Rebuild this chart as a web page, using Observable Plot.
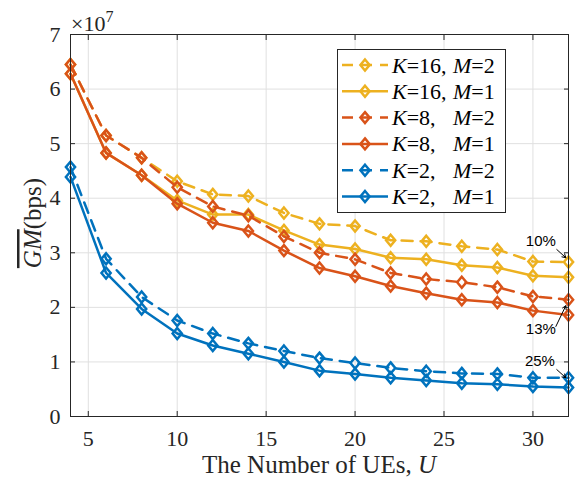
<!DOCTYPE html>
<html><head><meta charset="utf-8">
<script src="https://cdn.jsdelivr.net/npm/d3@7"></script>
<script src="https://cdn.jsdelivr.net/npm/@observablehq/plot@0.6"></script>
<style>body{margin:0;background:#fff}#chart{width:578px;height:481px}</style>
</head><body><div id="chart"></div>
<script>
// Number of UEs
const U = [4, 6, 8, 10, 12, 14, 16, 18, 20, 22, 24, 26, 28, 30, 32];
// GM values in units of 1e7 bps
const K16M2 = [6.45, 5.15, 4.74, 4.31, 4.07, 4.04, 3.73, 3.53, 3.49, 3.23, 3.21, 3.12, 3.06, 2.84, 2.83];
const K16M1 = [6.28, 4.83, 4.42, 3.96, 3.70, 3.70, 3.41, 3.15, 3.07, 2.91, 2.88, 2.77, 2.73, 2.58, 2.55];
const K8M2  = [6.45, 5.15, 4.74, 4.20, 3.85, 3.68, 3.30, 3.00, 2.88, 2.63, 2.52, 2.46, 2.37, 2.20, 2.14];
const K8M1  = [6.28, 4.83, 4.42, 3.90, 3.55, 3.40, 3.04, 2.72, 2.57, 2.39, 2.26, 2.14, 2.09, 1.94, 1.86];
const K2M2  = [4.57, 2.89, 2.19, 1.76, 1.52, 1.34, 1.20, 1.07, 0.98, 0.89, 0.83, 0.79, 0.78, 0.71, 0.71];
const K2M1  = [4.39, 2.63, 1.97, 1.52, 1.30, 1.15, 1.00, 0.84, 0.78, 0.71, 0.66, 0.61, 0.59, 0.55, 0.53];

const seriesK = ["16", "16", "8", "8", "2", "2"];
const seriesM = ["2", "1", "2", "1", "2", "1"];
const seriesValues = [K16M2, K16M1, K8M2, K8M1, K2M2, K2M1];
const seriesColors = ["#EDB120", "#EDB120", "#D95319", "#D95319", "#0072BD", "#0072BD"];
const seriesDashed = [true, false, true, false, true, false];

const xTicks = [5, 10, 15, 20, 25, 30];
const yTicks = [0, 1, 2, 3, 4, 5, 6, 7];

// annotations (data units)
const annoText = ["10%", "13%", "25%"];
const annoTx = [29.6, 29.6, 29.55];
const annoTy = [3.12, 1.52, 0.93];
const arrowX1 = [31.34, 31.29, 31.34];
const arrowY1 = [3.06, 1.65, 0.86];
const arrowX2 = [31.85, 31.85, 31.85];
const arrowY2 = [2.91, 2.03, 0.71];

const axisColor = "#262626";
const serif = "'Liberation Serif', 'Times New Roman', serif";
const dash = "11,8";
const lw = 2.5;

const diamond = {
  draw(ctx, size) {
    const r = Math.sqrt(size / Math.PI);
    ctx.moveTo(0, -r * 1.2);
    ctx.lineTo(r, 0);
    ctx.lineTo(0, r * 1.2);
    ctx.lineTo(-r, 0);
    ctx.closePath();
  }
};

const seriesData = seriesValues.map(vals => U.map((u, i) => ({u, v: vals[i]})));

const seriesMarks = seriesData.flatMap((d, s) => [
  Plot.line(d, {x: "u", y: "v", stroke: seriesColors[s], strokeWidth: lw,
    strokeDasharray: seriesDashed[s] ? dash : null}),
  Plot.dot(d, {x: "u", y: "v", symbol: diamond, r: 4.6, stroke: seriesColors[s], fill: "none", strokeWidth: lw})
]);

const anno = annoText.map((t, i) => ({t, x: annoTx[i], y: annoTy[i], x1: arrowX1[i], y1: arrowY1[i], x2: arrowX2[i], y2: arrowY2[i]}));

const svg = Plot.plot({
  width: 578, height: 481,
  marginLeft: 70, marginRight: 10, marginTop: 34, marginBottom: 65,
  x: {domain: [4, 32]},
  y: {domain: [0, 7]},
  style: {fontFamily: serif, fontSize: "22px", color: axisColor, background: "#fff"},
  marks: [
    Plot.gridX(xTicks, {stroke: "#e0e0e0", strokeOpacity: 1}),
    Plot.gridY(yTicks, {stroke: "#e0e0e0", strokeOpacity: 1}),
    ...seriesMarks,
    Plot.frame({stroke: axisColor, strokeWidth: 1}),
    Plot.axisX(xTicks, {anchor: "bottom", tickSize: -5, tickFormat: () => "", label: null, stroke: axisColor}),
    Plot.axisX(xTicks, {anchor: "top", tickSize: -5, tickFormat: () => "", label: null, stroke: axisColor}),
    Plot.axisY(yTicks, {anchor: "left", tickSize: -5, tickFormat: () => "", label: null, stroke: axisColor}),
    Plot.axisY(yTicks, {anchor: "right", tickSize: -5, tickFormat: () => "", label: null, stroke: axisColor}),
    Plot.axisX(xTicks, {anchor: "bottom", tickSize: 0, tickPadding: 14, tickFormat: d3.format("d"), label: null, fill: axisColor}),
    Plot.axisY(yTicks, {anchor: "left", tickSize: 0, tickPadding: 10, tickFormat: d3.format("d"), label: null, fill: axisColor}),
    Plot.arrow(anno, {x1: "x1", y1: "y1", x2: "x2", y2: "y2", stroke: "#000", strokeWidth: 1, headLength: 6}),
    Plot.text(anno, {x: "x", y: "y", text: "t", textAnchor: "start", lineAnchor: "bottom",
      fontFamily: "'Liberation Sans', Arial, sans-serif", fontSize: 15, fill: "#000"})
  ]
});
document.getElementById("chart").appendChild(svg);

const root = d3.select(svg);
// x label
const xl = root.append("text").attr("x", 319).attr("y", 473).attr("text-anchor", "middle")
  .attr("font-family", serif).attr("font-size", 25).attr("fill", axisColor);
xl.append("tspan").text("The Number of UEs, ");
xl.append("tspan").attr("font-style", "italic").text("U");
// y label
const yl = root.append("text").attr("transform", "translate(41,223) rotate(-90)").attr("text-anchor", "middle")
  .attr("font-family", serif).attr("font-size", 25).attr("fill", axisColor);
yl.append("tspan").attr("font-style", "italic").style("text-decoration", "overline").text("GM");
yl.append("tspan").text("(bps)");
// exponent
const ex = root.append("text").attr("x", 71).attr("y", 31).attr("text-anchor", "start")
  .attr("font-family", serif).attr("font-size", 22).attr("fill", axisColor);
ex.append("tspan").text("×10");
ex.append("tspan").attr("font-size", 16).attr("dy", -9).text("7");

// legend
const lg = root.append("g");
lg.append("rect").attr("x", 337.5).attr("y", 49.5).attr("width", 168).attr("height", 163)
  .attr("fill", "#fff").attr("stroke", axisColor).attr("stroke-width", 1);
const dpath = d3.symbol(diamond, Math.PI * 4.6 * 4.6)();
seriesK.forEach((k, i) => {
  const cy = 65 + i * 26.3;
  lg.append("line").attr("x1", 342).attr("x2", 388).attr("y1", cy).attr("y2", cy)
    .attr("stroke", seriesColors[i]).attr("stroke-width", lw).attr("stroke-dasharray", seriesDashed[i] ? dash : null);
  lg.append("path").attr("d", dpath).attr("transform", `translate(365,${cy})`)
    .attr("fill", "none").attr("stroke", seriesColors[i]).attr("stroke-width", lw);
  const t = lg.append("text").attr("y", cy + 7.5).attr("text-anchor", "start")
    .attr("font-family", serif).attr("font-size", 22).attr("fill", "#000");
  t.append("tspan").attr("x", 392).attr("font-style", "italic").text("K");
  t.append("tspan").text("=" + k + ",");
  t.append("tspan").attr("x", 453).attr("font-style", "italic").text("M");
  t.append("tspan").text("=" + seriesM[i]);
});
</script>
</body></html>
